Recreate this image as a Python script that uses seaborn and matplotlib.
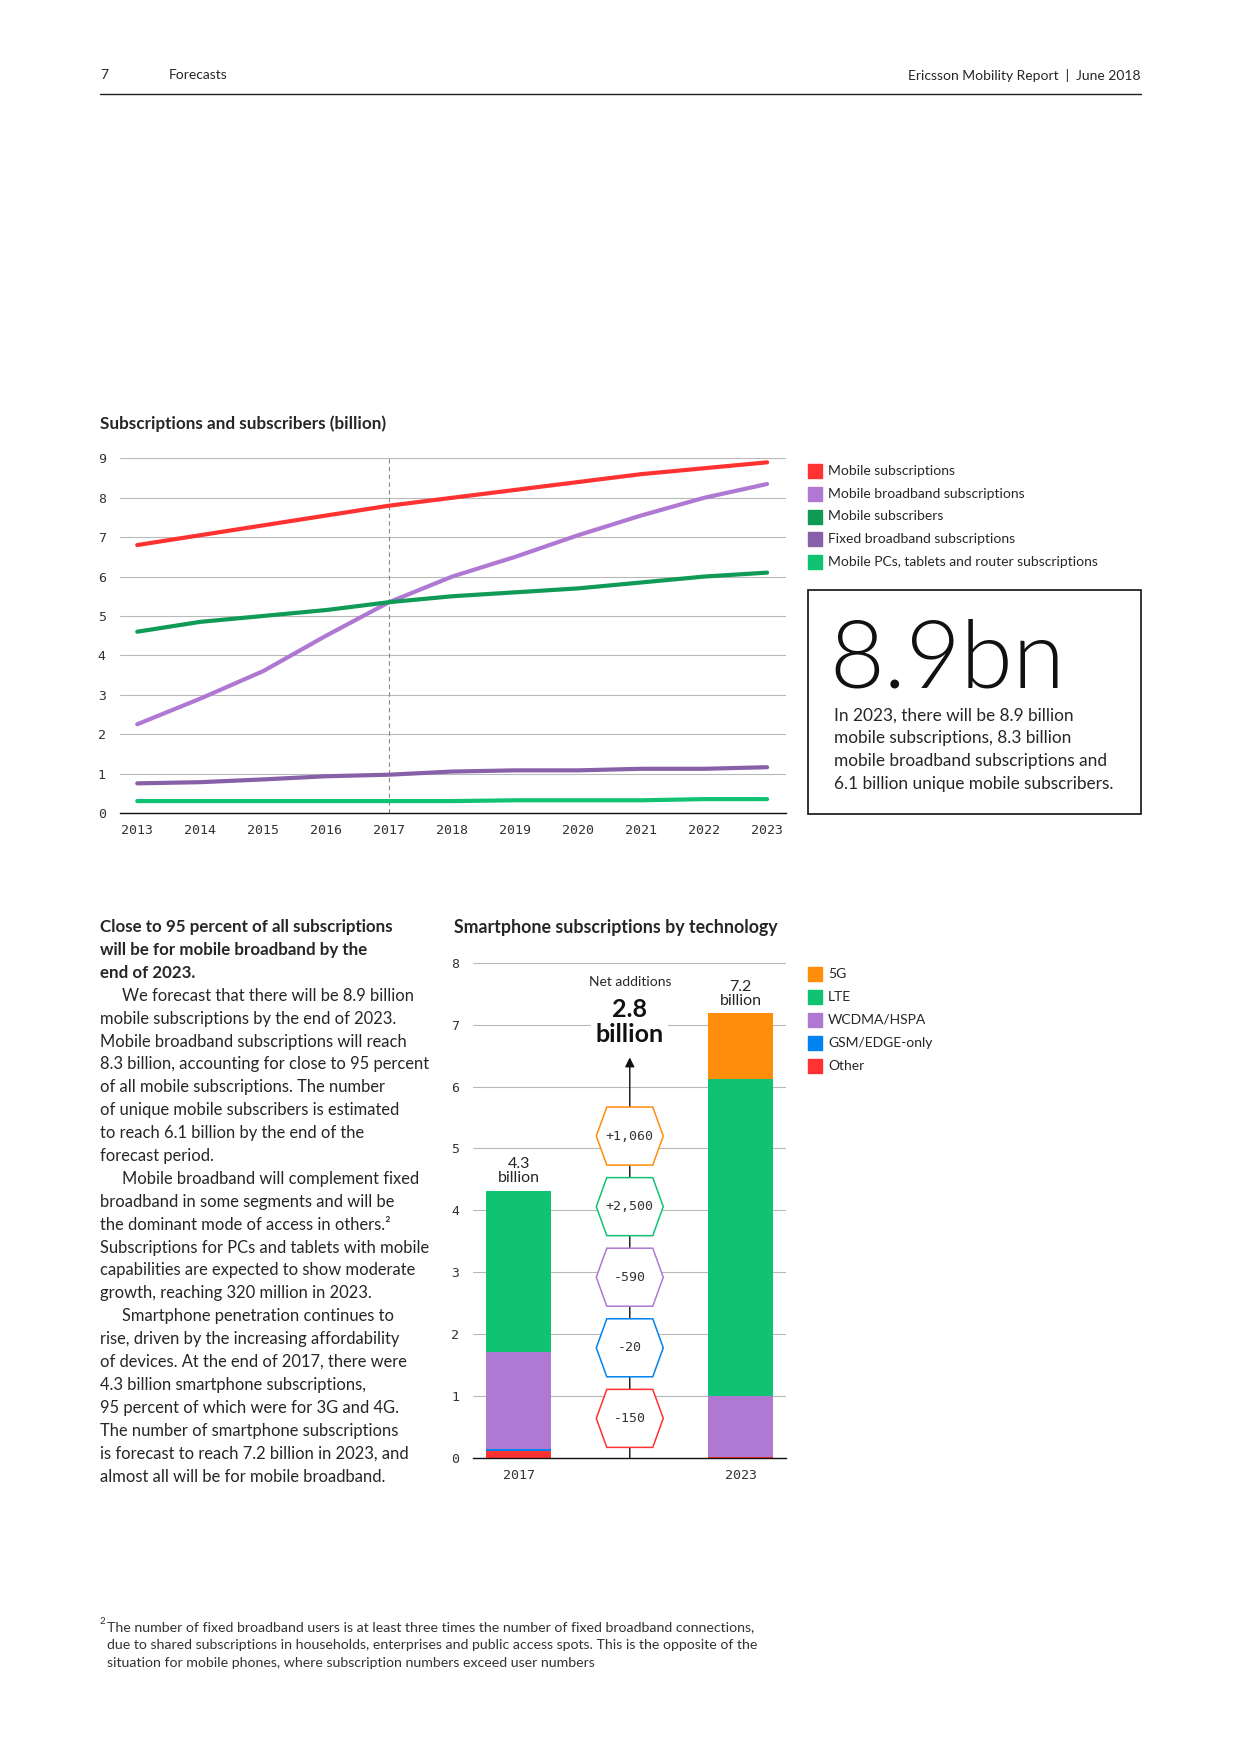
import numpy as np
import pandas as pd
import matplotlib
matplotlib.use("Agg")
import matplotlib.pyplot as plt
import seaborn as sns
from matplotlib import font_manager
from matplotlib.patches import Rectangle, Polygon

# --- data: subscriptions and subscribers (billion) ---
years = [2013, 2014, 2015, 2016, 2017, 2018, 2019, 2020, 2021, 2022, 2023]
mobile_subs = [6.8, 7.05, 7.3, 7.55, 7.8, 8.0, 8.2, 8.4, 8.6, 8.75, 8.9]
mobile_bb = [2.25, 2.9, 3.6, 4.5, 5.35, 6.0, 6.5, 7.05, 7.55, 8.0, 8.35]
mobile_subscribers = [4.6, 4.85, 5.0, 5.15, 5.35, 5.5, 5.6, 5.7, 5.85, 6.0, 6.1]
fixed_bb = [0.75, 0.78, 0.85, 0.93, 0.97, 1.05, 1.08, 1.08, 1.12, 1.12, 1.16]
mobile_pcs = [0.3, 0.3, 0.3, 0.3, 0.3, 0.3, 0.32, 0.32, 0.32, 0.35, 0.35]

line_labels = ["Mobile subscriptions", "Mobile broadband subscriptions", "Mobile subscribers",
               "Fixed broadband subscriptions", "Mobile PCs, tablets and router subscriptions"]
line_colors = ["#FF3232", "#AF78D2", "#0F9B55", "#8860A8", "#0FC373"]

# --- data: smartphone subscriptions by technology (billion) ---
bar_years = ["2017", "2023"]
tech_labels = ["5G", "LTE", "WCDMA/HSPA", "GSM/EDGE-only", "Other"]
tech_colors = ["#FF8C0A", "#0FC373", "#AF78D2", "#0082F0", "#FF3232"]
other = [0.12, 0.01]
gsm = [0.03, 0.01]
wcdma = [1.57, 0.98]
lte = [2.60, 5.12]
fiveg = [0.0, 1.06]
bar_totals = ["4.3\nbillion", "7.2\nbillion"]

net_labels = ["+1,060", "+2,500", "-590", "-20", "-150"]

W, H = 1240, 1754
fx = lambda px: px / W
fy = lambda py: 1 - py / H

sns.set_style("white")
plt.rcParams["font.family"] = ["Lato", "DejaVu Sans"]
TXT = "#262626"
MONO = ["DejaVu Sans Mono"]
GRID = "#B9B9B9"

# a light-weight face for the big callout number, if one is installed
big_font = None
for fam in ["Lato", "Open Sans", "Roboto", "Noto Sans", "Inter"]:
    for f in font_manager.fontManager.ttflist:
        if f.name == fam and f.weight in (300, "light") and f.style == "normal":
            big_font = font_manager.FontProperties(fname=f.fname)
            break
    if big_font is not None:
        break
if big_font is None:
    big_font = font_manager.FontProperties(family="Lato", weight="normal")

fig = plt.figure(figsize=(12.4, 17.54), dpi=100)

# header
fig.text(fx(100), fy(75), "7", fontsize=10, color=TXT, va="center")
fig.text(fx(169), fy(75), "Forecasts", fontsize=10, color=TXT, va="center")
fig.text(fx(1140.5), fy(75), "Ericsson Mobility Report  |  June 2018", fontsize=10,
         color=TXT, va="center", ha="right")
fig.add_artist(plt.Line2D([fx(99.5), fx(1140.5)], [fy(94), fy(94)], color="#222222", lw=1))

# ---------------- line chart ----------------
fig.text(fx(99.5), fy(424), "Subscriptions and subscribers (billion)", fontsize=12.3,
         fontweight="bold", color=TXT, va="center")

ax1 = fig.add_axes([fx(119.6), fy(812.9), (786 - 119.6) / W, (812.9 - 458.4) / H])
long = pd.DataFrame({
    "year": years * 5,
    "value": mobile_subs + mobile_bb + mobile_subscribers + fixed_bb + mobile_pcs,
    "series": sum([[lab] * len(years) for lab in line_labels], []),
})
sns.lineplot(data=long, x="year", y="value", hue="series", hue_order=line_labels,
             palette=dict(zip(line_labels, line_colors)), linewidth=3, legend=False,
             ax=ax1, zorder=3)
ax1.set_xlim(2012.72, 2023.30)
ax1.set_ylim(0, 9)
ax1.set_yticks(range(0, 10))
ax1.set_xticks(years)
ax1.grid(axis="y", color=GRID, lw=0.8)
ax1.grid(axis="x", visible=False)
ax1.axvline(2017, color="#888888", lw=0.8, ls=(0, (4, 3)), zorder=1)
for s in ["top", "right", "left"]:
    ax1.spines[s].set_visible(False)
ax1.spines["bottom"].set_color("#111111")
ax1.spines["bottom"].set_linewidth(1)
ax1.set_xlabel("")
ax1.set_ylabel("")
ax1.tick_params(axis="y", length=0, pad=10, labelsize=9.5, labelcolor="#333333")
ax1.tick_params(axis="x", length=0, pad=8, labelsize=9.5, labelcolor="#333333")
for t in ax1.get_xticklabels() + ax1.get_yticklabels():
    t.set_family(MONO)

# legend (line chart)
rows1 = [470.7, 493.6, 516.5, 539.4, 562.3]
for lab, col, ry in zip(line_labels, line_colors, rows1):
    fig.add_artist(Rectangle((fx(808), fy(ry + 7)), 14 / W, 14 / H, color=col,
                             transform=fig.transFigure))
    fig.text(fx(828), fy(ry), lab, fontsize=10, color=TXT, va="center")

# callout box
fig.add_artist(Rectangle((fx(808.4), fy(814)), (1140.5 - 808.4) / W, (814 - 590.3) / H,
                         fill=False, edgecolor="#111111", lw=1.2, transform=fig.transFigure))
fig.text(fx(829), fy(687), "8.9bn", fontproperties=big_font, fontsize=68, color="#111111",
         va="baseline")
box_lines = ["In 2023, there will be 8.9 billion", "mobile subscriptions, 8.3 billion",
             "mobile broadband subscriptions and", "6.1 billion unique mobile subscribers."]
for i, ln in enumerate(box_lines):
    fig.text(fx(834), fy(715.6 + i * 22.7), ln, fontsize=12.4, color=TXT, va="center")

# ---------------- left text column ----------------
col_lines = [
    ("Close to 95 percent of all subscriptions", "b", 0),
    ("will be for mobile broadband by the", "b", 0),
    ("end of 2023.", "b", 0),
    ("We forecast that there will be 8.9 billion", "r", 1),
    ("mobile subscriptions by the end of 2023.", "r", 0),
    ("Mobile broadband subscriptions will reach", "r", 0),
    ("8.3 billion, accounting for close to 95 percent", "r", 0),
    ("of all mobile subscriptions. The number", "r", 0),
    ("of unique mobile subscribers is estimated", "r", 0),
    ("to reach 6.1 billion by the end of the", "r", 0),
    ("forecast period.", "r", 0),
    ("Mobile broadband will complement fixed", "r", 1),
    ("broadband in some segments and will be", "r", 0),
    ("the dominant mode of access in others.²", "r", 0),
    ("Subscriptions for PCs and tablets with mobile", "r", 0),
    ("capabilities are expected to show moderate", "r", 0),
    ("growth, reaching 320 million in 2023.", "r", 0),
    ("Smartphone penetration continues to", "r", 1),
    ("rise, driven by the increasing affordability", "r", 0),
    ("of devices. At the end of 2017, there were", "r", 0),
    ("4.3 billion smartphone subscriptions,", "r", 0),
    ("95 percent of which were for 3G and 4G.", "r", 0),
    ("The number of smartphone subscriptions", "r", 0),
    ("is forecast to reach 7.2 billion in 2023, and", "r", 0),
    ("almost all will be for mobile broadband.", "r", 0),
]
for i, (ln, w, ind) in enumerate(col_lines):
    bold = w == "b"
    fig.text(fx(99.5 + 23 * ind), fy(927 + i * 22.9), ln, fontsize=12.2 if bold else 11.9,
             color=TXT, va="center", fontweight="bold" if bold else "normal")

# ---------------- bar chart ----------------
fig.text(fx(454), fy(927), "Smartphone subscriptions by technology", fontsize=12.8,
         fontweight="bold", color=TXT, va="center")

ax2 = fig.add_axes([fx(473), fy(1458), (786 - 473) / W, (1458 - 962.7) / H])
bars = pd.DataFrame({"year": bar_years, "Other": other, "GSM/EDGE-only": gsm,
                     "WCDMA/HSPA": wcdma, "LTE": lte, "5G": fiveg})
stack_order = ["Other", "GSM/EDGE-only", "WCDMA/HSPA", "LTE", "5G"]
cum = bars[stack_order].cumsum(axis=1)
order = ["2017", "gap", "2023"]
# draw cumulative tops, largest first so smaller ones cover them
for lab in stack_order[::-1]:
    col = tech_colors[tech_labels.index(lab)]
    sns.barplot(x=bars["year"], y=cum[lab], order=order, color=col, saturation=1,
                width=0.584, errorbar=None, ax=ax2, zorder=2, linewidth=0)
ax2.set_xlim(-0.413, 2.408)
ax2.set_ylim(0, 8)
ax2.set_yticks(range(0, 9))
ax2.set_xticks([0, 2])
ax2.set_xticklabels(bar_years)
ax2.set_axisbelow(True)
ax2.grid(axis="y", color=GRID, lw=0.8)
ax2.grid(axis="x", visible=False)
for s in ["top", "right", "left"]:
    ax2.spines[s].set_visible(False)
ax2.spines["bottom"].set_color("#111111")
ax2.spines["bottom"].set_linewidth(1)
ax2.set_xlabel("")
ax2.set_ylabel("")
ax2.tick_params(axis="y", length=0, pad=10, labelsize=9.5, labelcolor="#333333")
ax2.tick_params(axis="x", length=0, pad=8, labelsize=9.5, labelcolor="#333333")
for t in ax2.get_xticklabels() + ax2.get_yticklabels():
    t.set_family(MONO)

tot = cum["5G"].tolist()
for xi, lab, tv in zip([0, 2], bar_totals, tot):
    ax2.text(xi, tv + 0.09, lab, ha="center", va="bottom", fontsize=11.5, color=TXT,
             linespacing=1.0)

# net additions column
ax2.text(1, 7.69, "Net additions", ha="center", va="center", fontsize=10, color=TXT)
ax2.text(1, 7.04, "2.8\nbillion", ha="center", va="center", fontsize=18,
         fontweight="bold", color="#111111", linespacing=1.1,
         bbox=dict(facecolor="white", edgecolor="none", pad=3), zorder=4)
ax2.annotate("", xy=(1, 6.47), xytext=(1, 0),
             arrowprops=dict(arrowstyle="-|>", color="#111111", lw=1, mutation_scale=14,
                             shrinkA=0, shrinkB=0), zorder=3)
hx, hxf, hy = 33.5 / 111, 23 / 111, 29 / 61.9
for i, (lab, col) in enumerate(zip(net_labels, tech_colors)):
    cy = 5.2 - i * 1.14
    verts = [(1 - hx, cy), (1 - hxf, cy + hy), (1 + hxf, cy + hy), (1 + hx, cy),
             (1 + hxf, cy - hy), (1 - hxf, cy - hy)]
    ax2.add_patch(Polygon(verts, closed=True, facecolor="white", edgecolor=col,
                          lw=1.1, zorder=5))
    ax2.text(1, cy, lab, ha="center", va="center", fontsize=9.5, color="#333333",
             family=MONO, zorder=6)

# legend (bar chart)
rows2 = [974, 997, 1020, 1043, 1066]
for lab, col, ry in zip(tech_labels, tech_colors, rows2):
    fig.add_artist(Rectangle((fx(808), fy(ry + 7)), 14 / W, 14 / H, color=col,
                             transform=fig.transFigure))
    fig.text(fx(828), fy(ry), lab, fontsize=10, color=TXT, va="center")

# footnote
foot = ["The number of fixed broadband users is at least three times the number of fixed broadband connections,",
        "due to shared subscriptions in households, enterprises and public access spots. This is the opposite of the",
        "situation for mobile phones, where subscription numbers exceed user numbers"]
fig.text(fx(99.5), fy(1622), "2", fontsize=7, color="#333333", va="center")
for i, ln in enumerate(foot):
    fig.text(fx(107), fy(1627 + i * 17.8), ln, fontsize=10.2, color="#333333", va="center")

fig.savefig("out.png", dpi=100)
